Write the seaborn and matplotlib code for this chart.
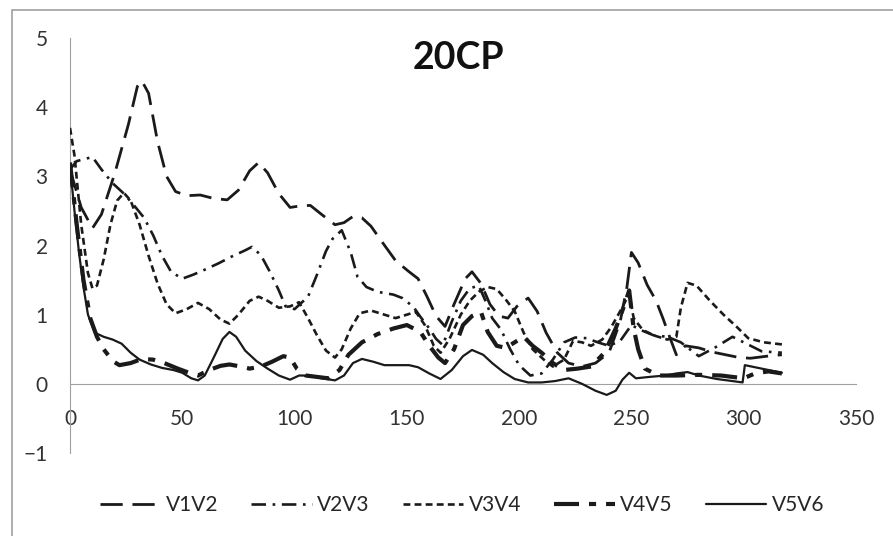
import matplotlib
matplotlib.use('Agg')
import matplotlib.pyplot as plt
from matplotlib.patches import Rectangle
import seaborn as sns

#data, one x/y list per series
v1v2_x = [0, 5, 10, 14, 20, 26, 30, 32, 35, 39, 43, 47, 52, 58, 64, 70, 75, 80, 84, 88, 93, 98,
          102, 107, 112, 118, 122, 126, 130, 134, 139, 145, 151, 155, 159, 163, 167, 171, 176, 179,
          183, 187, 191, 195, 199, 204, 208, 212, 217, 222, 228, 234, 240, 245, 248, 250, 253, 257,
          261, 264, 267, 270, 274, 280, 286, 292, 298, 303, 308, 313, 317]
v1v2_y = [3.1, 2.55, 2.25, 2.45, 3.05, 3.75, 4.3, 4.38, 4.2, 3.5, 3.0, 2.78, 2.72, 2.73, 2.68, 2.66,
          2.8, 3.08, 3.2, 3.05, 2.75, 2.55, 2.57, 2.58, 2.45, 2.3, 2.33, 2.42, 2.4, 2.28, 2.05, 1.78,
          1.62, 1.52, 1.26, 0.98, 0.83, 1.15, 1.52, 1.62, 1.45, 1.15, 0.98, 0.95, 1.12, 1.24, 1.05,
          0.74, 0.45, 0.3, 0.25, 0.3, 0.45, 0.9, 1.4, 1.9, 1.75, 1.43, 1.2, 0.95, 0.68, 0.42, 0.55,
          0.52, 0.46, 0.42, 0.38, 0.37, 0.39, 0.41, 0.42]

v2v3_x = [0, 3, 10, 14, 19, 24, 28, 33, 37, 41, 45, 50, 55, 60, 66, 72, 78, 81, 85, 89, 93, 96,
          100, 106, 110, 114, 117, 121, 123, 125, 128, 132, 137, 144, 148, 153, 156, 160, 163, 166,
          170, 174, 178, 182, 185, 188, 192, 196, 200, 205, 210, 215, 220, 225, 230, 235, 240, 245,
          250, 254, 260, 266, 272, 280, 287, 295, 300, 308, 317]
v2v3_y = [3.1, 3.22, 3.28, 3.1, 2.9, 2.75, 2.6, 2.4, 2.15, 1.85, 1.62, 1.52, 1.58, 1.65, 1.74, 1.84,
          1.93, 1.98, 1.86, 1.62, 1.35, 1.12, 1.08, 1.26, 1.58, 1.92, 2.1, 2.22, 2.06, 1.9, 1.55, 1.4,
          1.33, 1.29, 1.24, 1.11, 0.97, 0.8, 0.65, 0.56, 0.9, 1.2, 1.38, 1.42, 1.2, 0.95, 0.78, 0.5,
          0.27, 0.12, 0.15, 0.35, 0.6, 0.67, 0.66, 0.6, 0.55, 0.62, 0.85, 0.78, 0.7, 0.68, 0.6, 0.4,
          0.52, 0.68, 0.6, 0.47, 0.45]

v3v4_x = [0, 2, 5, 8, 10, 12, 15, 18, 21, 24, 27, 31, 35, 39, 43, 47, 52, 57, 62, 67, 71, 75, 80,
          84, 88, 93, 98, 102, 106, 110, 114, 118, 121, 125, 129, 134, 140, 145, 150, 154, 158, 162,
          165, 169, 174, 178, 182, 186, 190, 194, 198, 202, 206, 211, 215, 220, 224, 228, 232, 237,
          241, 245, 249, 251, 255, 260, 266, 270, 272, 275, 279, 285, 291, 297, 302, 309, 317]
v3v4_y = [3.7, 3.3, 2.3, 1.6, 1.38, 1.42, 1.8, 2.3, 2.65, 2.76, 2.65, 2.3, 1.85, 1.45, 1.15, 1.02,
          1.08, 1.17, 1.08, 0.93, 0.87, 1.0, 1.2, 1.26, 1.2, 1.1, 1.12, 1.18, 0.95, 0.7, 0.48, 0.38,
          0.5, 0.8, 1.02, 1.06, 1.0, 0.95, 1.0, 1.04, 0.85, 0.55, 0.45, 0.65, 1.0, 1.2, 1.33, 1.4,
          1.37, 1.22, 1.05, 0.74, 0.5, 0.35, 0.25, 0.35, 0.62, 0.6, 0.55, 0.64, 0.82, 1.05, 1.3, 0.95,
          0.78, 0.7, 0.64, 0.68, 1.1, 1.46, 1.42, 1.2, 1.0, 0.82, 0.66, 0.6, 0.57]

v4v5_x = [0, 3, 6, 9, 12, 15, 19, 22, 27, 32, 37, 42, 48, 53, 57, 62, 67, 71, 76, 80, 85, 90, 95,
          98, 101, 105, 110, 115, 120, 124, 130, 137, 144, 150, 156, 160, 164, 167, 171, 175, 179,
          183, 186, 190, 194, 198, 202, 206, 210, 215, 220, 226, 232, 238, 243, 247, 249, 251, 253,
          256, 262, 270, 280, 290, 300, 305, 311, 317]
v4v5_y = [3.2, 2.3, 1.5, 0.95, 0.68, 0.5, 0.33, 0.27, 0.3, 0.36, 0.35, 0.3, 0.22, 0.16, 0.12, 0.2,
          0.26, 0.28, 0.25, 0.22, 0.25, 0.32, 0.4, 0.38, 0.22, 0.12, 0.1, 0.08, 0.2, 0.42, 0.6, 0.72,
          0.8, 0.85, 0.75, 0.55, 0.38, 0.3, 0.5, 0.85, 0.98, 1.04, 0.75, 0.55, 0.52, 0.6, 0.68, 0.55,
          0.45, 0.3, 0.2, 0.22, 0.25, 0.45, 0.8, 1.15, 1.35, 0.8, 0.5, 0.22, 0.12, 0.12, 0.13, 0.12,
          0.08, 0.15, 0.18, 0.15]

v5v6_x = [0, 2, 4, 6, 8, 11, 15, 19, 23, 27, 31, 36, 41, 46, 50, 54, 57, 60, 64, 68, 71, 74, 78,
          83, 88, 93, 98, 102, 107, 112, 118, 122, 126, 130, 135, 140, 145, 151, 155, 160, 165, 170,
          175, 179, 184, 188, 193, 198, 204, 210, 216, 222, 228, 234, 239, 243, 246, 249, 252, 258,
          265, 270, 275, 280, 288, 295, 299.5, 300.5, 305, 311, 317]
v5v6_y = [3.15, 2.5, 1.9, 1.4, 1.0, 0.74, 0.68, 0.64, 0.58, 0.45, 0.35, 0.28, 0.23, 0.2, 0.16, 0.08,
          0.05, 0.12, 0.38, 0.65, 0.75, 0.68, 0.48, 0.33, 0.22, 0.12, 0.06, 0.12, 0.12, 0.08, 0.05,
          0.12, 0.3, 0.36, 0.32, 0.27, 0.27, 0.27, 0.24, 0.15, 0.07, 0.2, 0.4, 0.49, 0.42, 0.3, 0.17,
          0.07, 0.02, 0.02, 0.04, 0.08, 0.0, -0.1, -0.16, -0.1, 0.06, 0.16, 0.08, 0.1, 0.12, 0.15,
          0.17, 0.12, 0.07, 0.04, 0.02, 0.27, 0.24, 0.2, 0.16]

x_ticks = [0, 50, 100, 150, 200, 250, 300, 350]
y_ticks = [-1, 0, 1, 2, 3, 4, 5]

#styling - fonts have to be set after set_style
sns.set_style('white')
plt.rcParams['font.family'] = ['Lato', 'DejaVu Sans']
line_col = '#1a1a1a'
axis_col = '#a0a0a0'

fig = plt.figure(figsize=(8.93, 5.36), dpi=100)
ax = fig.add_axes([70 / 893, 1 - 453 / 536, 786 / 893, 415 / 536])

#one entry per series: data, width and dash pattern
series = [
    ('V1V2', v1v2_x, v1v2_y, 2.0, (0, (8, 3.5))),
    ('V2V3', v2v3_x, v2v3_y, 1.9, (0, (5.5, 2.5, 1, 2.5))),
    ('V3V4', v3v4_x, v3v4_y, 1.9, (0, (2.6, 1.6))),
    ('V4V5', v4v5_x, v4v5_y, 3.0, (0, (6, 2.4, 1.7, 2.4))),
    ('V5V6', v5v6_x, v5v6_y, 1.6, '-'),
]
for name, xs, ys, lw, ls in series:
    sns.lineplot(x=xs, y=ys, ax=ax, color=line_col, lw=lw, linestyle=ls,
                 label=name, zorder=3)

ax.set_xlim(0, 350)
ax.set_ylim(-1, 5)
ax.set_xticks(x_ticks)
ax.set_yticks(y_ticks)

#x axis sits on y = 0, Excel style
for side in ['top', 'right']:
    ax.spines[side].set_visible(False)
ax.spines['bottom'].set_position(('data', 0))
ax.spines['bottom'].set_color(axis_col)
ax.spines['left'].set_color(axis_col)
ax.tick_params(axis='x', direction='out', length=6, width=1, color=axis_col, pad=12,
               labelsize=15, labelcolor='#333333')
ax.tick_params(axis='y', direction='out', length=5, width=1, color=axis_col, pad=11,
               labelsize=15, labelcolor='#333333')
ax.grid(False)

fig.text(458 / 893, 1 - 58 / 536, '20CP', ha='center', va='center',
         fontsize=27, fontweight='bold', color='#111111')

ax.legend(loc='center', bbox_to_anchor=(462 / 893, 1 - 505 / 536),
          bbox_transform=fig.transFigure, ncol=5, frameon=False, fontsize=15,
          handlelength=2.9, handletextpad=0.25, columnspacing=1.6)

#grey frame round the chart area
fig.patches.append(Rectangle((12 / 893, -0.1), 2, (526 / 536) + 0.1,
                             transform=fig.transFigure, fill=False,
                             edgecolor=axis_col, lw=1.2))

fig.savefig('out.png', dpi=100)
